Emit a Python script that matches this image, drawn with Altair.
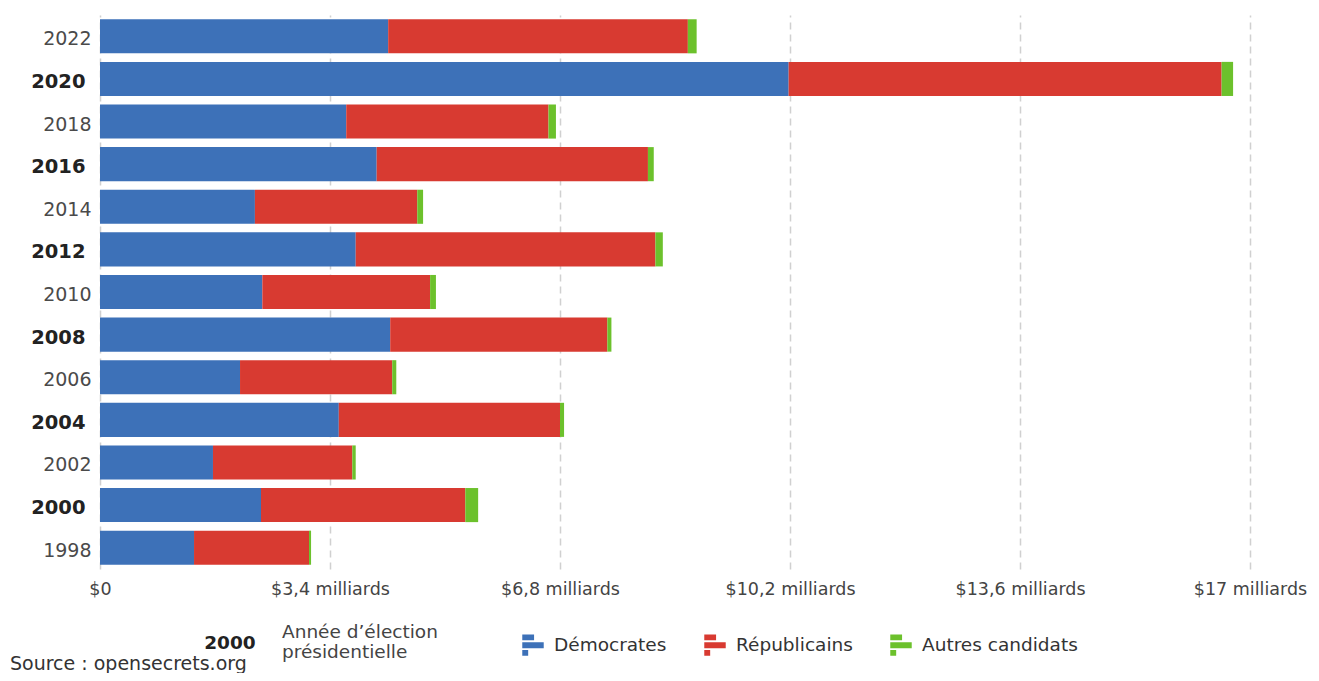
import altair as alt
import pandas as pd

years = [2022, 2020, 2018, 2016, 2014, 2012, 2010, 2008, 2006, 2004, 2002, 2000, 1998]
democrates = [4.26, 10.18, 3.64, 4.09, 2.29, 3.78, 2.40, 4.29, 2.07, 3.53, 1.67, 2.38, 1.39]
republicains = [4.43, 6.40, 2.99, 4.01, 2.40, 4.43, 2.48, 3.21, 2.25, 3.27, 2.06, 3.02, 1.70]
autres = [0.13, 0.17, 0.11, 0.086, 0.086, 0.11, 0.086, 0.06, 0.06, 0.06, 0.05, 0.19, 0.03]

series = ["Démocrates", "Républicains", "Autres candidats"]
colors = ["#3d71b8", "#d83a31", "#6cc12c"]
ticks = [0, 3.4, 6.8, 10.2, 13.6, 17]

rows = []
for i, y in enumerate(years):
    for k, (name, vals) in enumerate(zip(series, [democrates, republicains, autres])):
        rows.append({"annee": str(y), "parti": name, "ordre": k, "montant": vals[i]})
df = pd.DataFrame(rows)

FONT = "DejaVu Sans"
PRES = "toNumber(datum.value) % 4 == 0"

icon = "M-1,-1H0.1V-0.45H-1Z M-1,-0.28H1V0.28H-1Z M-1,0.45H-0.45V1H-1Z"

bars = alt.Chart(df).mark_bar().encode(
    y=alt.Y("annee:O", sort=[str(y) for y in years], title=None,
            scale=alt.Scale(paddingInner=0.2, paddingOuter=0.1),
            axis=alt.Axis(
                domain=False, ticks=False, grid=False,
                labelFont=FONT, labelOffset=3,
                labelFontSize={"condition": {"test": PRES, "value": 19.5}, "value": 19},
                labelFontWeight={"condition": {"test": PRES, "value": "bold"}, "value": "normal"},
                labelColor={"condition": {"test": PRES, "value": "#222222"}, "value": "#4a4a4a"},
                labelPadding={"condition": {"test": PRES, "value": 15}, "value": 9},
            )),
    x=alt.X("montant:Q", stack="zero", title=None,
            scale=alt.Scale(domain=[0, 17], nice=False),
            axis=alt.Axis(
                values=ticks, domain=False, ticks=False, labelFlush=False,
                grid=True, gridDash=[7, 5], gridColor="#d0d0d0", gridWidth=1.5,
                labelFontSize=17.5, labelFont=FONT, labelColor="#444444", labelPadding=11,
                labelExpr="datum.value == 0 ? '$0' : '$' + replace(format(datum.value, '.1~f'), '.', ',') + ' milliards'",
            )),
    color=alt.Color("parti:N", sort=series,
                    scale=alt.Scale(domain=series, range=colors),
                    legend=alt.Legend(
                        title=None, orient="none", legendX=422, legendY=619,
                        direction="horizontal", symbolType=icon, symbolSize=460,
                        symbolStrokeWidth=0, labelFontSize=18.5, labelFont=FONT,
                        labelColor="#333333", columnPadding=37, labelOffset=10,
                    )),
    order=alt.Order("ordre:Q"),
)

one = pd.DataFrame({"a": [0]})

key_year = alt.Chart(one).mark_text(
    text="2000", font=FONT, fontSize=18.5, fontWeight="bold", color="#222222",
    align="center", baseline="middle",
).encode(x=alt.value(130), y=alt.value(628))

key_label = alt.Chart(one).mark_text(
    text=["Année d’élection", "présidentielle"], font=FONT, fontSize=18.5, color="#444444",
    align="left", baseline="middle", lineHeight=20,
).encode(x=alt.value(182), y=alt.value(617))

source = alt.Chart(one).mark_text(
    text="Source : opensecrets.org", font=FONT, fontSize=19, color="#333333",
    align="left", baseline="middle",
).encode(x=alt.value(-90), y=alt.value(649))

chart = alt.layer(bars, key_year, key_label, source).properties(
    width=1150, height=554, autosize="none",
    padding={"left": 92, "top": 7, "right": 60, "bottom": 104},
).configure_view(stroke=None)

chart.save("out.html", embed_options={"renderer": "svg", "actions": False})
